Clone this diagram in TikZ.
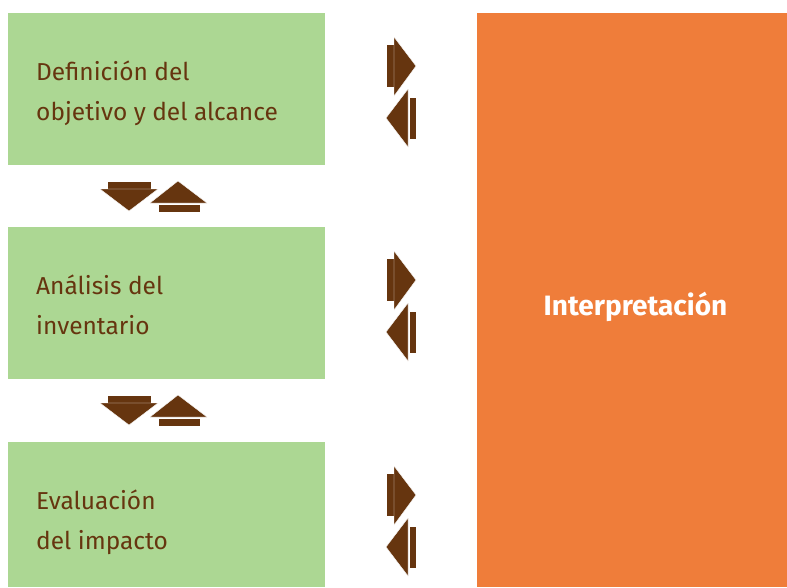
\documentclass[tikz,border=0pt]{standalone}
\usepackage{fontspec}
\setmainfont{Fira Sans}
\definecolor{boxgreen}{HTML}{ACD793}
\definecolor{boxorange}{HTML}{EF7D3A}
\definecolor{arrbrown}{HTML}{66350F}
\begin{document}
\begin{tikzpicture}[x=1pt,y=-1pt,
  stage/.style={fill=boxgreen,draw=none},
  stagetext/.style={anchor=base west,inner sep=0pt,text=arrbrown,font=\fontsize{24.5}{28}\selectfont},
  arr/.style={fill=arrbrown,draw=white,line width=0.4pt}]
\useasboundingbox (0,0) rectangle (787,587);
% green boxes
\fill[stage] (8,13) rectangle (325,165);
\fill[stage] (8,227) rectangle (325,379);
\fill[stage] (8,442) rectangle (325,587);
% orange box
\node[fill=boxorange,minimum width=310pt,minimum height=574pt,inner sep=0pt,anchor=north west] (interp) at (477,13) {};
\node[text=white,font=\fontsize{28}{32}\selectfont\bfseries,inner sep=0pt] (interptext) at (635.5,307) {Interpretación};
% texts
\node[stagetext] (t1a) at (36,80) {Definición del};
\node[stagetext] (t1b) at (36,120) {objetivo y del alcance};
\node[stagetext] (t2a) at (36,294) {Análisis del};
\node[stagetext] (t2b) at (36,334) {inventario};
\node[stagetext] (t3a) at (36,509) {Evaluación};
\node[stagetext] (t3b) at (36,549) {del impacto};
% side arrows
\foreach \dy in {0,214,429}{
  \begin{scope}[yshift=-\dy pt]
  \path[arr] (386,44) rectangle (394,87);
  \path[arr] (394,37) -- (416,66) -- (394,96) -- cycle;
  \path[arr] (409,97) rectangle (416,139);
  \path[arr] (408,89) -- (386,118) -- (408,147) -- cycle;
  \end{scope}}
% vertical arrows
\foreach \dy in {0,214}{
  \begin{scope}[yshift=-\dy pt]
  \path[arr] (107,181) rectangle (151,189);
  \path[arr] (100,189) -- (158,189) -- (129,211) -- cycle;
  \path[arr] (150,203) -- (178,181) -- (207,203) -- cycle;
  \path[arr] (158,204) rectangle (200,212);
  \end{scope}}
\end{tikzpicture}
\end{document}
